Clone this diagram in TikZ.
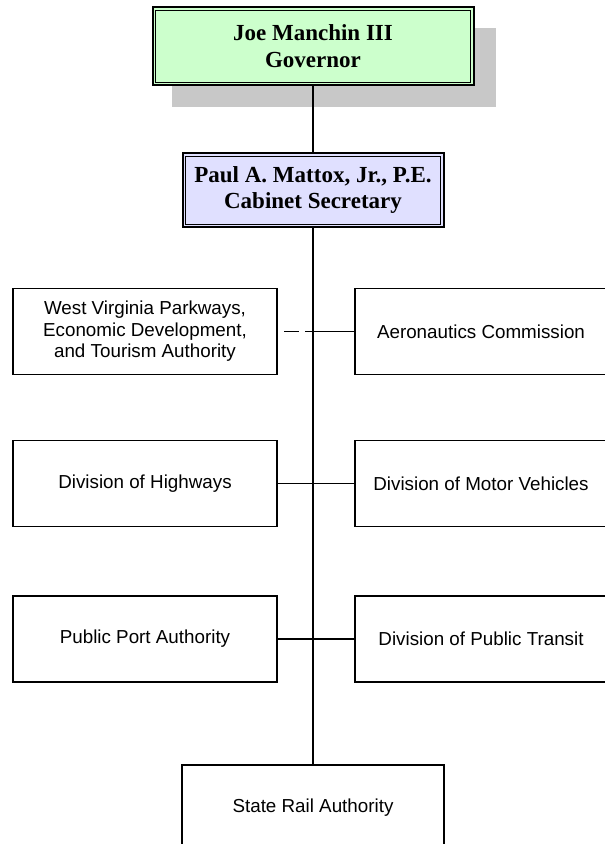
\documentclass[tikz,border=0pt]{standalone}
\usepackage{fontspec}
\setmainfont{Liberation Serif}
\newfontfamily\arialf{Liberation Sans}
\definecolor{govgreen}{RGB}{204,255,204}
\definecolor{seclav}{RGB}{224,224,255}
\definecolor{shadowgray}{RGB}{200,200,200}
\begin{document}
\begin{tikzpicture}[x=1pt,y=-1pt,
  unitbox/.style={draw, line width=1.3pt, minimum width=264pt, minimum height=86pt,
    inner sep=0pt, align=center, font=\arialf\fontsize{18.8}{21.5}\selectfont},
  headbox/.style={draw, line width=2pt, inner sep=0pt, align=center,
    font=\bfseries\fontsize{23}{26.5}\selectfont},
  conn/.style={line width=1.5pt},
  dashconn/.style={line width=1.5pt, dash pattern=on 15pt off 6.5pt, dash phase=7pt},
  inner/.style={line width=0.8pt}]
\useasboundingbox (0,0) rectangle (605,844);
\clip (0,0) rectangle (605,844);
% shadow of governor box
\fill[shadowgray] (172,28) rectangle (496,107);
% head boxes
\node[headbox, fill=govgreen, minimum width=321pt, minimum height=78pt] (gov) at (313,46) {Joe Manchin III\\Governor};
\draw[inner] ([shift={(4,4)}]gov.north west) rectangle ([shift={(-4,-4)}]gov.south east);
\node[headbox, fill=seclav, minimum width=261pt, minimum height=74pt] (sec) at (313,190) {Paul A. Mattox, Jr., P.E.\\Cabinet Secretary};
\draw[inner] ([shift={(4,4)}]sec.north west) rectangle ([shift={(-4,-4)}]sec.south east);
% unit boxes
\node[unitbox] (wv) at (145,331.5) {West Virginia Parkways,\\Economic Development,\\and Tourism Authority};
\node[unitbox, minimum width=252pt] (aero) at (481,331.5) {Aeronautics Commission};
\node[unitbox] (hwy) at (145,483.5) {Division of Highways};
\node[unitbox, minimum width=252pt] (dmv) at (481,483.5) {Division of Motor Vehicles};
\node[unitbox] (port) at (145,639) {Public Port Authority};
\node[unitbox, minimum width=252pt] (transit) at (481,639) {Division of Public Transit};
\node[unitbox, minimum width=262pt] (rail) at (313,808) {State Rail Authority};
% trunk
\draw[conn] (gov.south) -- (sec.north);
\draw[conn] (sec.south) -- (rail.north);
% junctions
\coordinate (j1) at (wv.east -| rail.north);
\draw[dashconn] (j1) -- (wv.east);
\draw[conn] (j1) -- (aero.west);
\draw[conn] (hwy.east) -- (dmv.west);
\draw[conn] (port.east) -- (transit.west);
\end{tikzpicture}
\end{document}
